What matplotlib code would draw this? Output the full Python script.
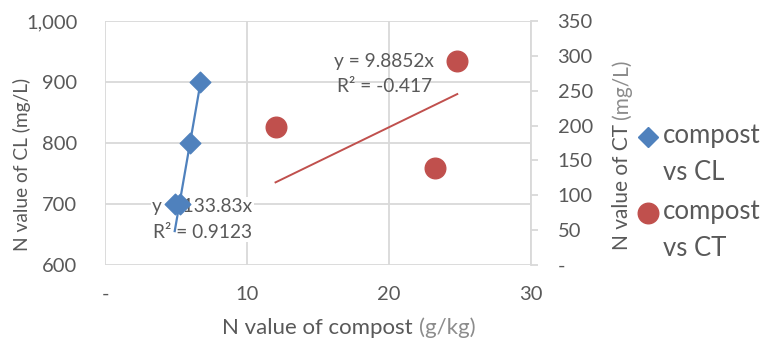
import numpy as np
import matplotlib.pyplot as plt
from matplotlib.lines import Line2D

plt.rcParams['font.family'] = ['Lato', 'DejaVu Sans']

# compost vs CL (primary axis)
cl_x = [4.9, 5.3, 6.0, 6.7]
cl_y = [700, 700, 800, 900]
cl_slope = 133.83
cl_label = 'y = 133.83x\nR² = 0.9123'

# compost vs CT (secondary axis)
ct_x = [12.0, 23.2, 24.8]
ct_y = [198, 139, 293]
ct_slope = 9.8852
ct_label = 'y = 9.8852x\nR² = -0.417'

x_ticks = [0, 10, 20, 30]
x_labels = ['-', '10', '20', '30']
left_ticks = [600, 700, 800, 900, 1000]
left_labels = ['600', '700', '800', '900', '1,000']
right_ticks = [0, 50, 100, 150, 200, 250, 300, 350]
right_labels = ['-', '50', '100', '150', '200', '250', '300', '350']

blue = '#4F81BD'
red = '#C0504D'
txt = '#595959'
light = '#8C8C8C'
grid = '#D9D9D9'

W, H = 762, 354
fig = plt.figure(figsize=(7.62, 3.54), dpi=100)
ax = fig.add_axes([0.138, 0.251, 0.559, 0.690])
ax2 = ax.twinx()

ax.set_xlim(0, 30)
ax.set_ylim(600, 1000)
ax2.set_ylim(0, 350)

ax.set_xticks(x_ticks, x_labels)
ax.set_yticks(left_ticks, left_labels)
ax2.set_yticks(right_ticks, right_labels)

ax.grid(True, color=grid, lw=1.3)
ax.set_axisbelow(True)
for a in (ax, ax2):
    for s in a.spines.values():
        s.set_visible(False)
ax2.spines['right'].set_visible(True)
ax2.spines['right'].set_color(grid)
ax2.spines['right'].set_linewidth(1.3)

ax.tick_params(axis='both', length=0, labelsize=14.5, labelcolor=txt)
ax.tick_params(axis='x', pad=15)
ax.tick_params(axis='y', pad=20)
ax2.tick_params(axis='y', length=5, color=grid, width=1.3, labelsize=14.5,
                labelcolor=txt, pad=14)

# trendlines through origin
lx = np.array([min(cl_x), max(cl_x)])
ax.plot(lx, cl_slope * lx, color=blue, lw=1.6, zorder=3)
rx = np.array([min(ct_x), max(ct_x)])
ax2.plot(rx, ct_slope * rx, color=red, lw=1.4, zorder=3)

ax.scatter(cl_x, cl_y, marker='D', s=110, color=blue, zorder=4)
ax2.scatter(ct_x, ct_y, marker='o', s=220, color=red, zorder=4)

ax.text(6.83, 675, cl_label, ha='center', va='center', fontsize=13.8,
        color=txt, linespacing=1.6, zorder=2,
        bbox=dict(fc='white', ec='none', pad=1))
ax2.text(19.65, 274, ct_label, ha='center', va='center', fontsize=13.8,
         color=txt, linespacing=1.6, zorder=5)

# axis titles
fig.text(22 / W, 1 - 164 / H, 'N value of CL (mg/L)', rotation=90,
         ha='center', va='center', fontsize=13.8, color=txt)

r = fig.canvas.get_renderer()


def two_tone(x, y, main, extra, fs, rot):
    full = fig.text(0, 0, main + extra, fontsize=fs)
    ext = full.get_window_extent(r)
    length = ext.width
    full.remove()
    kw = dict(fontsize=fs, rotation=rot, rotation_mode='anchor',
              va='baseline')
    if rot == 0:
        x0 = x - length / 2
        fig.text(x0 / W, 1 - y / H, main, ha='left', color=txt, **kw)
        fig.text((x0 + length) / W, 1 - y / H, extra, ha='right',
                 color=light, **kw)
    else:
        y0 = y + length / 2
        fig.text(x / W, 1 - y0 / H, main, ha='left', color=txt, **kw)
        fig.text(x / W, 1 - (y0 - length) / H, extra, ha='right',
                 color=light, **kw)


two_tone(349, 334, 'N value of compost ', '(g/kg)', 16, 0)
two_tone(628, 155, 'N value of CT ', '(mg/L)', 15, 90)

# legend
legend_items = [('D', 10.5, blue, 'compost\nvs CL', 137),
                ('o', 14.8, red, 'compost\nvs CT', 213)]
for mk, ms, col, lab, ym in legend_items:
    fig.add_artist(Line2D([648 / W], [1 - ym / H], transform=fig.transFigure,
                          marker=mk, ms=ms, color=col, ls='none'))
    fig.text(663 / W, 1 - (ym + 17) / H, lab, ha='left', va='center',
             fontsize=18.5, color=txt, linespacing=1.6)

fig.savefig('out.png', dpi=100)
